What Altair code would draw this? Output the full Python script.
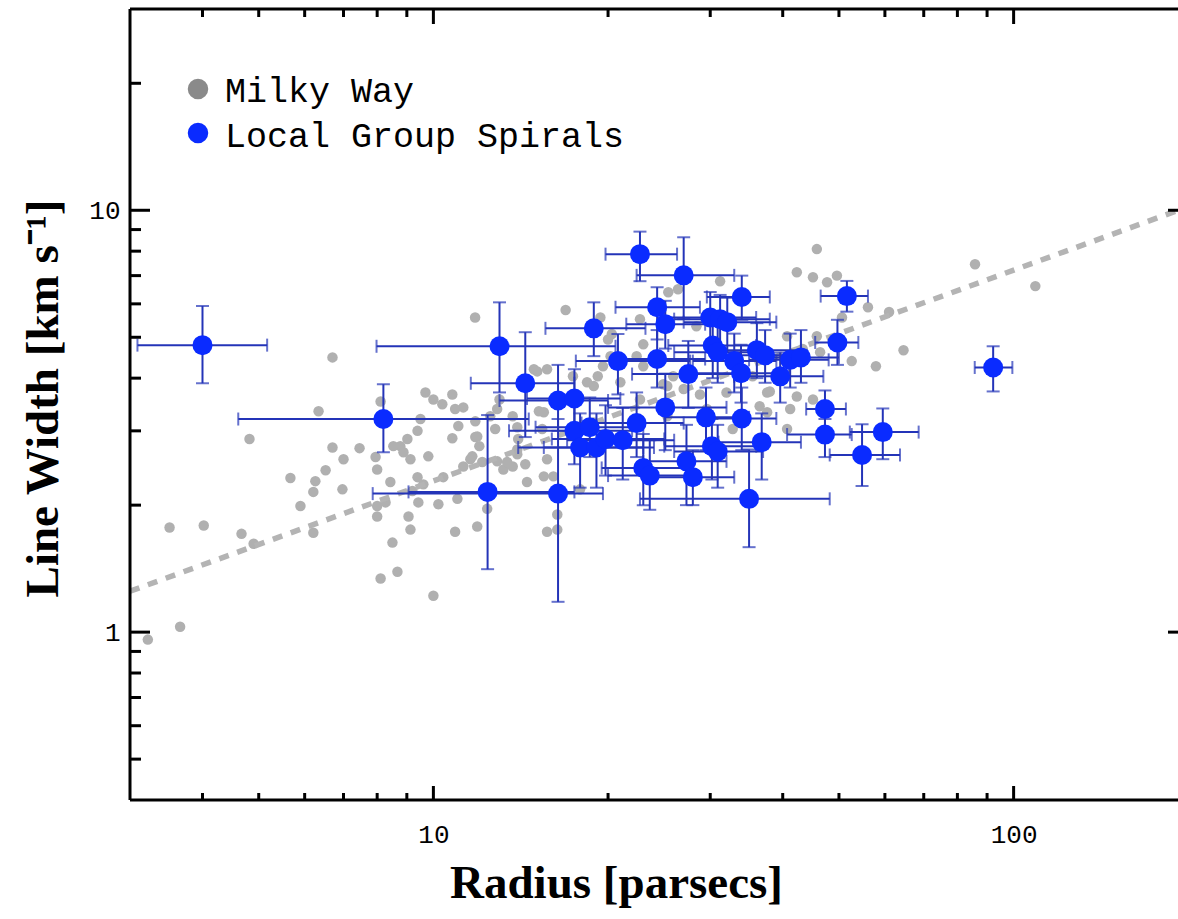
import altair as alt
import pandas as pd

# ---------------- data ----------------
# Milky Way clouds (grey points): radius [pc], line width [km/s]
mw_radius = [
    11.8, 6.7, 6.34, 4.82, 8.11, 9.69, 10.0, 10.36, 10.78, 11.26,
    11.04, 9.5, 9.39, 9.02, 8.77, 8.53, 8.88, 9.13, 10.78, 11.81,
    6.70, 7.0, 7.46, 7.95, 8.0, 9.80, 6.52, 6.26, 6.21, 5.67,
    6.97, 9.39, 9.61, 10.4, 11.26, 11.58, 8.43, 8.27, 8.0, 9.2,
    9.42, 10.2, 11.0, 5.9, 3.51, 4.02, 4.67, 4.9, 6.21, 8.0,
    8.5, 9.06, 9.13, 10.9, 8.11, 8.67, 10.0, 3.66, 3.22, 11.9,
    10.9, 11.81, 11.9, 12.0, 12.88, 12.78, 13.7, 13.95, 14.0, 15.1,
    15.5, 11.67, 12.14, 12.88, 13.2, 13.7, 14.4, 13.95, 15.5, 12.38,
    15.7, 16.35, 16.35, 16.9, 25.4, 26.4, 19.4, 23.0, 22.7, 20.3,
    19.6, 19.2, 18.9, 17.4, 18.4, 15.7, 22.4, 23.0, 24.9, 25.9,
    14.9, 13.0, 12.53, 13.4, 15.2, 15.4, 13.95, 15.7, 16.1, 14.5,
    17.9, 20.2, 21.0, 25.3, 27.0, 31.2, 28.4, 32.0, 36.5, 37.6,
    35.5, 41.2, 42.3, 40.7, 43.3, 45.8, 42.3, 45.1, 47.7, 45.8,
    25.3, 32.8, 18.9, 29.6, 49.6, 50.6, 52.6, 46.4, 38.0, 45.1,
    85.8, 109, 56.1, 61.0, 64.6, 57.9, 40.7, 20.0, 22.7, 28.8, 37.6,
]
mw_width = [
    5.57, 4.48, 3.34, 2.87, 3.52, 3.70, 3.56, 3.47, 3.66, 3.41,
    3.08, 3.2, 3.0, 2.87, 2.76, 2.76, 2.67, 2.57, 2.88, 2.90,
    2.74, 2.57, 2.73, 2.60, 2.43, 2.61, 2.42, 2.28, 2.15, 2.32,
    2.18, 2.33, 2.24, 2.33, 2.47, 2.57, 2.27, 2.03, 1.99, 2.16,
    2.03, 2.01, 2.07, 1.99, 1.77, 1.79, 1.71, 1.62, 1.72, 1.88,
    1.63, 1.88, 1.75, 1.73, 1.34, 1.39, 1.22, 1.03, 0.96, 1.78,
    3.38, 3.16, 2.91, 2.76, 3.38, 3.03, 3.25, 3.06, 2.87, 4.15,
    3.32, 2.61, 2.53, 2.54, 2.43, 2.47, 2.50, 2.64, 2.34, 1.96,
    1.73, 1.75, 1.90, 5.80, 6.39, 6.50, 5.57, 4.81, 5.52, 5.09,
    4.27, 4.04, 3.83, 4.04, 3.91, 4.20, 4.51, 4.27, 3.87, 4.04,
    4.20, 3.56, 3.25, 2.53, 3.34, 3.03, 2.71, 2.57, 2.34, 2.27,
    2.18, 4.51, 3.91, 3.83, 3.77, 6.79, 5.31, 3.70, 3.43, 3.70,
    4.04, 3.38, 3.62, 5.03, 4.69, 8.09, 7.13, 6.94, 6.75, 5.03,
    3.25, 3.03, 3.14, 3.38, 7.0, 5.57, 4.39, 4.61, 3.72, 3.56,
    7.45, 6.61, 5.89, 5.74, 4.66, 4.27, 3.03, 4.94, 3.56, 3.66, 3.32,
]

# Local Group spirals (blue points with error bars)
lg_radius = [
    4.0, 8.2, 13.0, 14.4, 12.4, 16.4, 35.0, 22.7, 27.0, 24.3,
    25.1, 18.9, 20.8, 24.3, 25.1, 27.5, 30.0, 31.2, 32.1, 34.0,
    30.3, 30.9, 33.0, 33.9, 36.1, 37.3, 39.6, 41.2, 43.0, 49.7,
    51.6, 47.3, 47.3, 59.5, 54.8, 92.2, 16.4, 17.5, 17.5, 18.6,
    17.9, 19.1, 19.8, 21.2, 22.4, 23.0, 23.6, 27.3, 28.0, 30.2,
    30.9, 34.0, 36.8, 29.5,
]
lg_radius_lo = [
    3.09, 4.61, 7.98, 11.6, 9.06, 7.86, 22.7, 19.8, 22.4, 20.6,
    21.5, 15.6, 17.6, 20.6, 20.0, 22.0, 25.0, 26.0, 27.0, 29.6,
    25.4, 26.0, 28.0, 28.0, 30.0, 31.0, 33.0, 35.0, 37.0, 45.5,
    46.5, 43.9, 40.7, 52.2, 48.2, 85.7, 13.0, 14.5, 13.5, 15.0,
    14.0, 15.5, 16.0, 17.0, 18.0, 19.5, 20.0, 23.0, 23.5, 25.0,
    26.0, 29.0, 31.0, 25.0,
]
lg_radius_hi = [
    5.17, 14.6, 20.6, 17.5, 17.5, 19.6, 48.2, 26.3, 33.0, 28.8,
    29.4, 23.2, 27.7, 29.4, 32.0, 33.0, 36.0, 38.0, 39.0, 38.0,
    36.0, 37.0, 39.0, 41.0, 43.0, 44.0, 47.0, 48.0, 50.0, 54.0,
    56.1, 51.4, 52.6, 68.6, 63.7, 99.5, 20.0, 21.0, 22.0, 23.0,
    23.0, 24.0, 25.0, 26.0, 27.0, 27.5, 28.0, 32.0, 33.0, 36.0,
    37.0, 39.0, 43.0, 35.0,
]
lg_width = [
    4.79, 3.2, 4.76, 3.89, 2.15, 2.13, 2.07, 7.87, 7.01, 5.89,
    5.37, 5.25, 4.39, 4.44, 3.41, 4.09, 5.57, 5.52, 5.43, 6.23,
    4.78, 4.61, 4.39, 4.11, 4.66, 4.53, 4.04, 4.42, 4.48, 4.86,
    6.26, 3.38, 2.94, 2.98, 2.63, 4.24, 3.54, 3.58, 3.0, 3.06,
    2.74, 2.74, 2.87, 2.85, 3.13, 2.45, 2.35, 2.54, 2.33, 2.76,
    2.68, 3.21, 2.82, 3.23,
]
lg_width_lo = [
    3.89, 2.67, 3.70, 2.90, 1.41, 1.18, 1.59, 6.79, 5.52, 4.94,
    4.7, 4.51, 3.66, 3.8, 2.7, 3.4, 4.8, 4.7, 4.6, 5.5,
    4.0, 3.9, 3.7, 3.5, 4.0, 3.9, 3.5, 3.8, 3.9, 4.3,
    5.75, 3.03, 2.6, 2.57, 2.22, 3.72, 3.0, 3.0, 2.5, 2.6,
    2.2, 2.2, 2.35, 2.3, 2.6, 2.0, 1.95, 2.0, 2.0, 2.3,
    2.2, 2.7, 2.3, 2.7,
]
lg_width_hi = [
    5.93, 3.87, 6.05, 5.14, 3.27, 3.2, 2.71, 8.9, 8.63, 6.57,
    6.1, 6.05, 5.09, 5.2, 4.1, 4.9, 6.4, 6.3, 6.2, 7.0,
    5.6, 5.4, 5.1, 4.8, 5.4, 5.2, 4.6, 5.1, 5.2, 5.5,
    6.8, 3.74, 3.2, 3.39, 3.11, 4.76, 4.3, 4.2, 3.6, 3.6,
    3.3, 3.3, 3.45, 3.4, 3.7, 2.95, 2.85, 3.1, 2.7, 3.2,
    3.1, 3.8, 3.3, 3.8,
]

# Larson size-linewidth relation (dashed line end points)
fit_radius = [3.0, 200.0]
fit_width = [1.25, 10.2]

# axis ticks and labels
x_major = [10, 100]
x_minor = [4, 5, 6, 7, 8, 9, 20, 30, 40, 50, 60, 70, 80, 90]
y_major = [1, 10]
y_minor = [0.5, 0.6, 0.7, 0.8, 0.9, 2, 3, 4, 5, 6, 7, 8, 9, 20]
legend_labels = ["Milky Way", "Local Group Spirals"]

# ---------------- styling ----------------
W, H = 1048, 791
X_DOMAIN = [3, 192]
Y_DOMAIN = [0.4, 30]
GREY = "#b0b0b0"
LEGEND_GREY = "#8a8a8a"
BLUE = "#0a2bff"
EBAR = "#2434b8"
MONO = "Liberation Mono"
SERIF = "Liberation Serif"

xscale = alt.Scale(type="log", domain=X_DOMAIN, nice=False)
yscale = alt.Scale(type="log", domain=Y_DOMAIN, nice=False)

xaxis = alt.Axis(
    values=x_major, format="d", ticks=False, grid=False, domain=False,
    labelFont=MONO, labelFontSize=26, labelColor="black", labelPadding=21,
    labelFlush=False, labelOverlap=False,
    title="Radius [parsecs]", titleFont=SERIF, titleFontSize=47,
    titleFontWeight="bold", titleColor="black",
    titleX=486, titleY=97, titleAlign="center", titleBaseline="alphabetic",
)
yaxis = alt.Axis(
    values=y_major, format="d", ticks=False, grid=False, domain=False,
    labelFont=MONO, labelFontSize=26, labelColor="black", labelPadding=10,
    labelFlush=False, labelOverlap=False,
    title="Line Width [km s\u207b\u00b9]", titleFont=SERIF, titleFontSize=47,
    titleFontWeight="bold", titleColor="black", titleAngle=270,
    titleX=-73, titleY=389, titleAlign="center", titleBaseline="alphabetic",
)

mw_df = pd.DataFrame({"r": mw_radius, "w": mw_width})
lg_df = pd.DataFrame({
    "r": lg_radius, "rlo": lg_radius_lo, "rhi": lg_radius_hi,
    "w": lg_width, "wlo": lg_width_lo, "whi": lg_width_hi,
})
fit_df = pd.DataFrame({"r": fit_radius, "w": fit_width})


def X(field):
    return alt.X(field, type="quantitative", scale=xscale, axis=xaxis)


def Y(field):
    return alt.Y(field, type="quantitative", scale=yscale, axis=yaxis)


grey_pts = alt.Chart(mw_df).mark_circle(size=110, color=GREY, opacity=1).encode(
    x=X("r"), y=Y("w")
)

fit_line = alt.Chart(fit_df).mark_line(
    color="#b4b4b4", strokeWidth=5.5, strokeDash=[10, 9], strokeCap="butt", clip=True
).encode(x=X("r"), y=Y("w"))

lg = alt.Chart(lg_df)
eb_h = lg.mark_rule(color=EBAR, strokeWidth=2).encode(
    x=X("rlo"), x2=alt.X2("rhi"), y=Y("w"))
eb_v = lg.mark_rule(color=EBAR, strokeWidth=2).encode(
    x=X("r"), y=Y("wlo"), y2=alt.Y2("whi"))
cap_l = lg.mark_tick(orient="vertical", size=13, thickness=2, color=EBAR).encode(
    x=X("rlo"), y=Y("w"))
cap_r = lg.mark_tick(orient="vertical", size=13, thickness=2, color=EBAR).encode(
    x=X("rhi"), y=Y("w"))
cap_b = lg.mark_tick(orient="horizontal", size=13, thickness=2, color=EBAR).encode(
    x=X("r"), y=Y("wlo"))
cap_t = lg.mark_tick(orient="horizontal", size=13, thickness=2, color=EBAR).encode(
    x=X("r"), y=Y("whi"))
blue_pts = lg.mark_circle(size=400, color=BLUE, opacity=1).encode(
    x=X("r"), y=Y("w"))

# frame and inward ticks
xmaj = pd.DataFrame({"v": x_major})
xmin = pd.DataFrame({"v": x_minor})
ymaj = pd.DataFrame({"v": y_major})
ymin = pd.DataFrame({"v": y_minor})
TK = dict(color="black", strokeWidth=3)

ticks = [
    alt.Chart(xmaj).mark_rule(**TK).encode(x=X("v"), y=alt.value(H), y2=alt.value(H - 14)),
    alt.Chart(xmin).mark_rule(**TK).encode(x=X("v"), y=alt.value(H), y2=alt.value(H - 7)),
    alt.Chart(xmaj).mark_rule(**TK).encode(x=X("v"), y=alt.value(0), y2=alt.value(15)),
    alt.Chart(xmin).mark_rule(**TK).encode(x=X("v"), y=alt.value(0), y2=alt.value(8)),
    alt.Chart(ymaj).mark_rule(**TK).encode(y=Y("v"), x=alt.value(0), x2=alt.value(20)),
    alt.Chart(ymin).mark_rule(**TK).encode(y=Y("v"), x=alt.value(0), x2=alt.value(11)),
    alt.Chart(ymaj).mark_rule(**TK).encode(y=Y("v"), x=alt.value(W), x2=alt.value(W - 10)),
]

one = pd.DataFrame({"a": [0]})
frame = [
    alt.Chart(one).mark_rule(**TK).encode(x=alt.value(0), y=alt.value(0), y2=alt.value(H)),
    alt.Chart(one).mark_rule(**TK).encode(x=alt.value(0), x2=alt.value(W), y=alt.value(H)),
    alt.Chart(one).mark_rule(**TK).encode(x=alt.value(0), x2=alt.value(W), y=alt.value(0)),
]

legend = [
    alt.Chart(one).mark_circle(size=420, color=LEGEND_GREY, opacity=1).encode(
        x=alt.value(68), y=alt.value(80)),
    alt.Chart(one).mark_circle(size=420, color=BLUE, opacity=1).encode(
        x=alt.value(68), y=alt.value(124)),
    alt.Chart(one).mark_text(align="left", baseline="alphabetic", font=MONO,
                             fontSize=35, color="black").encode(
        x=alt.value(95), y=alt.value(93), text=alt.value(legend_labels[0])),
    alt.Chart(one).mark_text(align="left", baseline="alphabetic", font=MONO,
                             fontSize=35, color="black").encode(
        x=alt.value(95), y=alt.value(138), text=alt.value(legend_labels[1])),
]

chart = alt.layer(
    grey_pts, fit_line, eb_h, eb_v, cap_l, cap_r, cap_b, cap_t, blue_pts,
    *ticks, *frame, *legend,
).properties(
    width=W, height=H,
    padding={"left": 130, "top": 9, "right": 0, "bottom": 119},
    autosize=alt.AutoSizeParams(type="none"),
    background="white",
).configure_view(stroke=None)

chart.save("out.html", embed_options={"renderer": "svg", "actions": False})
